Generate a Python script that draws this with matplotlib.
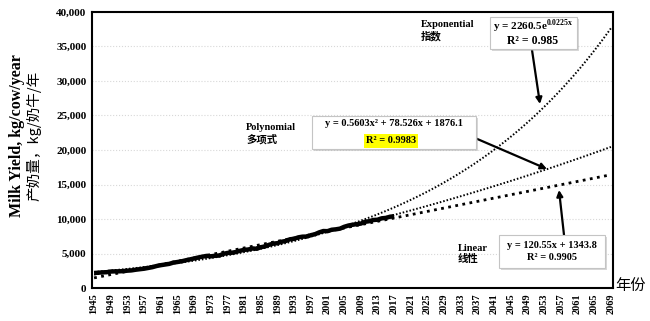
import numpy as np
import matplotlib.pyplot as plt
import matplotlib.patheffects as pe
from matplotlib.patches import Rectangle

plt.rcParams['mathtext.fontset'] = 'custom'
plt.rcParams['mathtext.rm'] = 'Liberation Serif'
plt.rcParams['mathtext.bf'] = 'Liberation Serif:bold'

# observed milk yield, kg/cow/year, 1945-2017
years = np.arange(1945, 2018)
milk = [2171, 2216, 2267, 2287, 2386, 2410, 2417, 2445, 2513, 2554,
        2650, 2724, 2795, 2907, 3020, 3188, 3307, 3400, 3493, 3674,
        3767, 3866, 4015, 4144, 4279, 4423, 4543, 4653, 4590, 4669,
        4699, 4941, 5083, 5100, 5214, 5394, 5526, 5582, 5725, 5689,
        5908, 6026, 6268, 6434, 6497, 6705, 6818, 7063, 7131, 7339,
        7441, 7454, 7653, 7795, 8061, 8256, 8238, 8441, 8504, 8603,
        8868, 9050, 9164, 9252, 9333, 9593, 9677, 9853, 9896, 10097,
        10159, 10330, 10406]

# trend lines as printed on the chart (x = 1 for 1945)
trend_years = np.arange(1945, 2070)
lin_coef = [120.55, 1343.8]
poly_coef = [0.5603, 78.526, 1876.1]
exp_coef = [2260.5, 0.0225]

tick_years = np.arange(1945, 2070, 4)

W, H = 650, 321
def fx(x): return x / W
def fy(y): return 1 - y / H

fig = plt.figure(figsize=(6.5, 3.21), dpi=100)
ax = fig.add_axes([fx(92), fy(288), fx(613) - fx(92), fy(12) - fy(288)])

t = trend_years - 1944
ax.plot(trend_years, np.polyval(lin_coef, t), color='black', lw=2.0,
        dashes=(1, 1.6), zorder=2)
ax.plot(trend_years, np.polyval(poly_coef, t), color='black', lw=1.4,
        dashes=(0.8, 1.0), zorder=2)
ax.plot(trend_years, exp_coef[0] * np.exp(exp_coef[1] * t), color='black',
        lw=1.4, dashes=(0.8, 1.0), zorder=2)
ax.plot(years, milk, color='black', lw=3.2, zorder=3, solid_capstyle='butt')

ax.set_xlim(1944.5, 2069.5)
ax.set_ylim(0, 40000)
ax.set_yticks(np.arange(0, 40001, 5000))
ax.set_yticklabels([f'{v:,}' for v in range(0, 40001, 5000)],
                   family='Liberation Serif', fontweight='bold', fontsize=8)
ax.set_xticks(tick_years)
ax.set_xticklabels([str(y) for y in tick_years], rotation=90,
                   family='Liberation Serif', fontweight='bold', fontsize=7.5)
ax.tick_params(length=0, pad=4)
ax.grid(axis='y', color='#d8d8d8', ls=':', lw=0.8)
ax.set_axisbelow(True)
for s in ax.spines.values():
    s.set_linewidth(1.5)

fig.text(fx(17), fy(136), 'Milk Yield, kg/cow/year', rotation=90,
         ha='center', va='center', family='Liberation Serif',
         fontweight='bold', fontsize=11.5)
fig.text(fx(34), fy(136), '产奶量，kg/奶牛/年', rotation=90,
         ha='center', va='center', family=['Noto Sans CJK SC', 'DejaVu Sans'],
         fontsize=10.5)
fig.text(fx(631), fy(285), '年份', ha='center', va='center',
         family=['Noto Sans CJK SC', 'DejaVu Sans'], fontsize=11)

def box(x0, y0, x1, y1):
    r = Rectangle((fx(x0), fy(y1)), fx(x1) - fx(x0), fy(y0) - fy(y1),
                  transform=fig.transFigure, facecolor='white',
                  edgecolor='#c4c4c4', lw=0.8, zorder=5)
    r.set_path_effects([pe.SimplePatchShadow(offset=(1.5, -1.5),
                                             shadow_rgbFace='#aaaaaa',
                                             alpha=0.45), pe.Normal()])
    fig.add_artist(r)

serif = dict(family=['Liberation Serif', 'Noto Sans CJK SC'],
             fontweight='bold', zorder=6)

# exponential
box(490, 17, 577, 49)
fig.text(fx(533), fy(26), r'y = 2260.5e$^{\mathbf{0.0225x}}$', ha='center',
         va='center', fontsize=8, **serif)
fig.text(fx(533), fy(41), 'R² = 0.985', ha='center', va='center',
         fontsize=8.5, **serif)
fig.text(fx(421), fy(31), 'Exponential\n指数', ha='left', va='center',
         fontsize=7.5, linespacing=1.2, **serif)

# polynomial
box(312, 116, 476, 149)
fig.text(fx(394), fy(124), 'y = 0.5603x² + 78.526x + 1876.1', ha='center',
         va='center', fontsize=7.5, **serif)
fig.text(fx(391), fy(141), 'R² = 0.9983', ha='center', va='center',
         fontsize=7.5, bbox=dict(facecolor='#ffff00', edgecolor='none',
                                 pad=1.5), **serif)
fig.text(fx(246), fy(134), 'Polynomial\n多项式', ha='left', va='center',
         fontsize=7.5, linespacing=1.2, **serif)

# linear
box(499, 235, 605, 268)
fig.text(fx(552), fy(246), 'y = 120.55x + 1343.8', ha='center',
         va='center', fontsize=7.5, **serif)
fig.text(fx(552), fy(258), 'R² = 0.9905', ha='center', va='center',
         fontsize=7.5, **serif)
fig.text(fx(458), fy(254), 'Linear\n线性', ha='left', va='center',
         fontsize=7.5, linespacing=1.2, **serif)

arrow = dict(arrowstyle='-|>', color='black', lw=1.6, mutation_scale=9,
             shrinkA=0, shrinkB=0)
for (x0, y0), (x1, y1) in [((532, 50), (540, 104)),
                           ((475, 138), (547, 169)),
                           ((564, 235), (559, 190))]:
    ax.annotate('', xy=(fx(x1), fy(y1)), xytext=(fx(x0), fy(y0)),
                xycoords='figure fraction', textcoords='figure fraction',
                arrowprops=arrow, zorder=7)

fig.savefig('out.png', dpi=100)
